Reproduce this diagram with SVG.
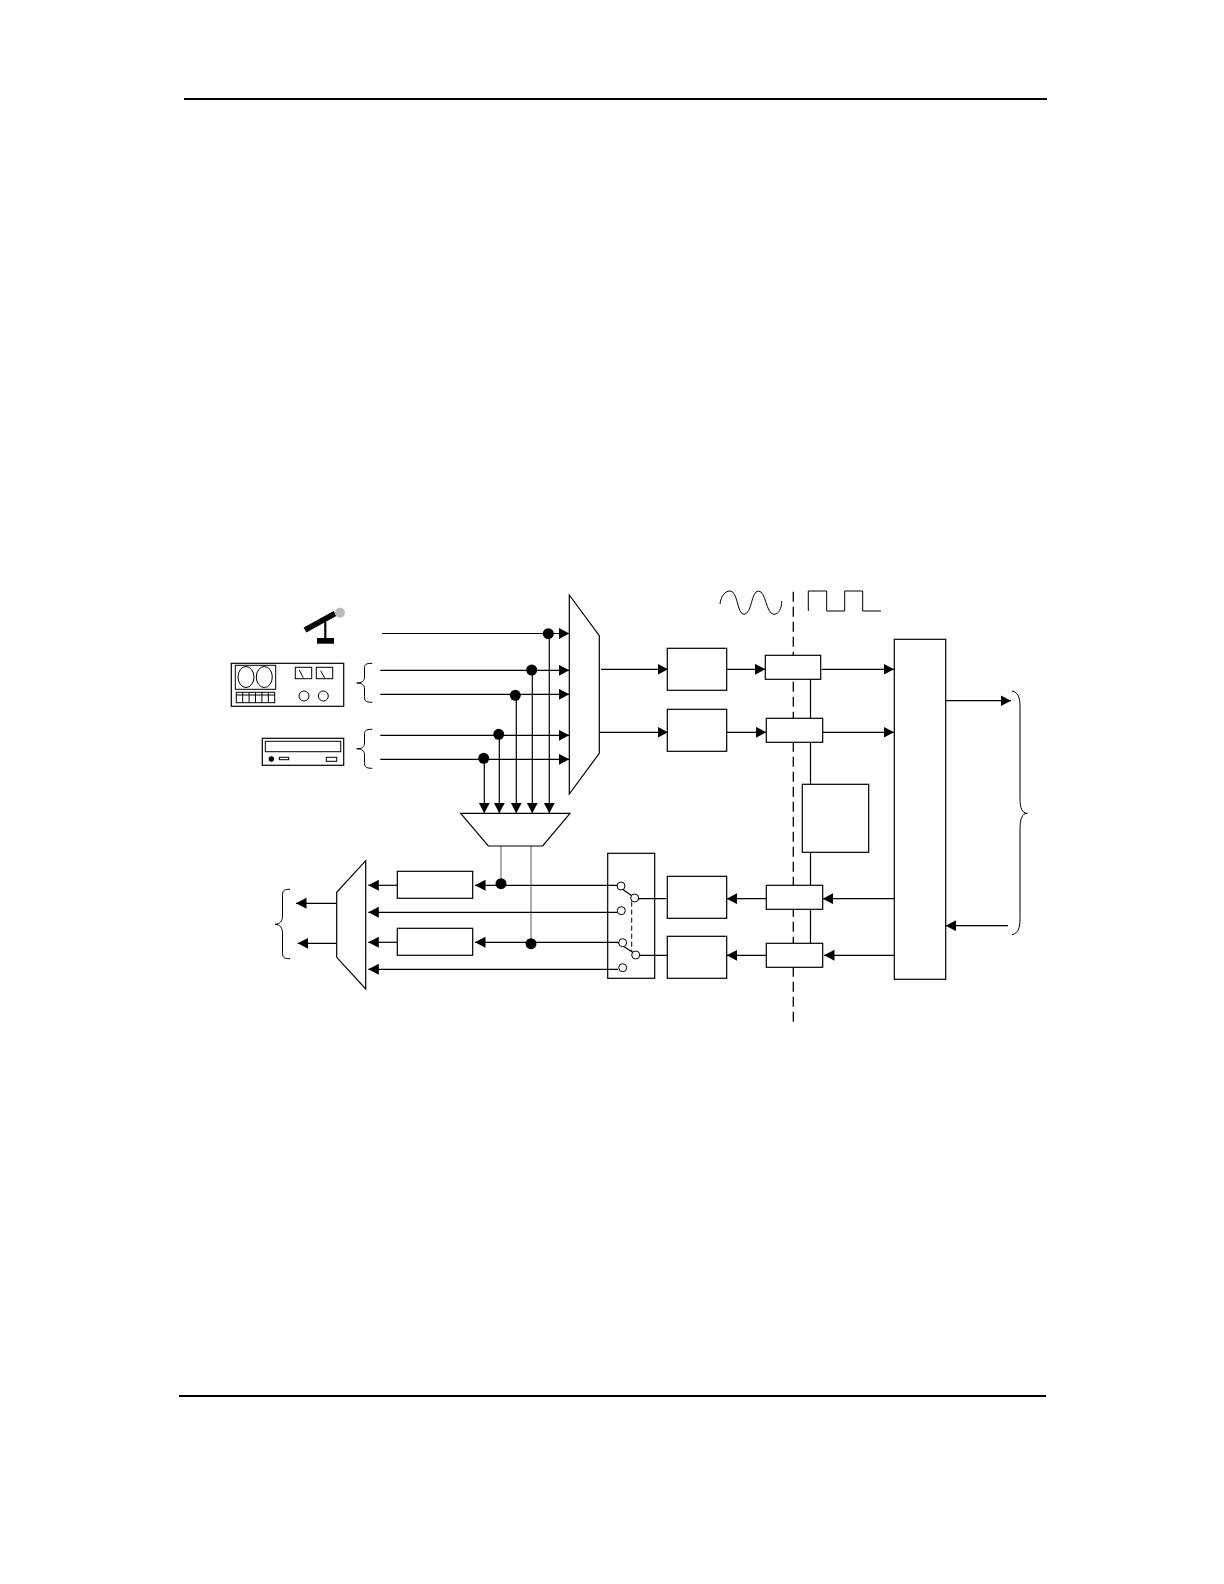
<svg xmlns="http://www.w3.org/2000/svg" width="1224" height="1584" viewBox="0 0 1224 1584">
<style>
.b{fill:#fff;stroke:#000;stroke-width:1.2}
.n{fill:none;stroke:#000;stroke-width:1}
.c{fill:none;stroke:#000;stroke-width:1.2}
.a{marker-end:url(#arrow)}
.g{fill:none;stroke:#999;stroke-width:1.6}
.d{fill:#000;stroke:none}
.o{fill:#fff;stroke:#000;stroke-width:1}
.dash{fill:none;stroke:#000;stroke-width:1.3;stroke-dasharray:10 5}
</style>
<defs>
<marker id="arrow" markerUnits="userSpaceOnUse" markerWidth="12" markerHeight="12" refX="10.5" refY="5.5" orient="auto"><path d="M0,0 L10.5,5.5 L0,11 Z" fill="#000"/></marker>
</defs>
<rect width="1224" height="1584" fill="#fff"/>
<g id="page-rules">
<line x1="184" y1="99" x2="1047" y2="99" stroke="#000" stroke-width="2"/>
<line x1="179" y1="1396" x2="1046" y2="1396" stroke="#000" stroke-width="2"/>
</g>
<g id="divider">
<path class="dash" d="M793.3,591.7V1021.7"/>
</g>
<g id="connectors">
<path class="c a" d="M382,633.5H569.3"/>
<path class="c a" d="M380.3,670.3H569.3"/>
<path class="c a" d="M380.3,694.3H569.3"/>
<path class="c a" d="M380.3,735.3H569.3"/>
<path class="c a" d="M380.3,759.3H569.3"/>
<path class="c a" d="M549.3,633.5V813.3"/>
<path class="c a" d="M532.3,670.3V813.3"/>
<path class="c a" d="M516.3,695V813.3"/>
<path class="c a" d="M499.3,735V813.3"/>
<path class="c a" d="M484.3,759V813.3"/>
<path class="g" d="M501,846V884"/>
<path class="g" d="M531,846V943"/>
<path class="c a" d="M601,669.3H668"/>
<path class="c a" d="M599.3,732.3H668"/>
<path class="c a" d="M726.7,669.3H765.3"/>
<path class="c a" d="M726.7,732.3H766.3"/>
<path class="c a" d="M821.7,669.3H894"/>
<path class="c a" d="M822.7,732.3H894"/>
<path class="c" d="M810.5,679.3V718.3M810.5,742.3V784.3M810.5,852.3V885.3M810.5,909.3V943.3"/>
<path class="c a" d="M945.7,700.7H1011"/>
<path class="c a" d="M1008,925.7H945.7"/>
<path class="c a" d="M894.3,898.7H822.7"/>
<path class="c a" d="M894.3,955.3H824"/>
<path class="c a" d="M766.3,898.7H726.7"/>
<path class="c a" d="M766.3,955.3H726.7"/>
<path class="c" d="M638,898.7H666.5M639,955.3H667.3"/>
<path class="c a" d="M618,885.3H475"/>
<path class="c a" d="M397.3,885.3H368.3"/>
<path class="c a" d="M618,912.3H368.3"/>
<path class="c a" d="M618,942.3H475"/>
<path class="c a" d="M397.3,942.3H368.3"/>
<path class="c a" d="M618,969.3H368.3"/>
<path class="c a" d="M336.7,903.3H296"/>
<path class="c a" d="M336.7,943.3H297.7"/>
</g>
<g id="microphone">
<line x1="305" y1="630" x2="335" y2="613.5" stroke="#000" stroke-width="5.5"/>
<circle cx="340" cy="612.7" r="5" fill="#bbb"/>
<line x1="325.3" y1="622" x2="325.3" y2="640" stroke="#000" stroke-width="2.2"/>
<rect class="d" x="317" y="638" width="17" height="5.7"/>
</g>
<g id="tape-deck">
<rect class="b" x="231.3" y="663.3" width="112.4" height="43"/>
<rect class="n" x="235.3" y="665.3" width="40.4" height="24"/>
<ellipse class="n" cx="246" cy="677" rx="8" ry="10.5"/>
<ellipse class="n" cx="264.3" cy="677" rx="8" ry="10.5"/>
<rect class="n" x="236.3" y="692.3" width="38.4" height="10.4"/>
<path class="n" d="M236.3,695H274.7M242.7,692.3V702.7M249.1,692.3V702.7M255.5,692.3V702.7M261.9,692.3V702.7M268.3,692.3V702.7"/>
<rect class="n" x="295.3" y="667.3" width="16.4" height="11.4"/>
<rect class="n" x="316.3" y="667.3" width="16.4" height="11.4"/>
<path class="n" d="M299.3,670L303.3,677.7M320.7,670.7L324.7,678"/>
<circle class="n" cx="304" cy="696" r="5"/>
<circle class="n" cx="323.3" cy="696" r="5"/>
</g>
<g id="cd-player">
<rect class="b" x="262.3" y="738.3" width="81.4" height="27"/>
<rect class="n" x="265.3" y="741.3" width="75.4" height="10.4"/>
<circle class="d" cx="271.3" cy="759" r="2.7"/>
<rect class="n" x="279.3" y="757.3" width="9.4" height="2.4"/>
<rect class="n" x="326.3" y="757.3" width="10.4" height="4"/>
</g>
<g id="brace-tape"><path class="n" d="M372.3,663.3C365,663.3 364.5,665 364.5,669V677C364.5,681 362,683 356.7,683C362,683 364.5,685 364.5,689V696.5C364.5,700.5 365,702.3 372.3,702.3"/></g>
<g id="brace-cd"><path class="n" d="M372.3,729.3C365,729.3 364.5,731 364.5,735V743C364.5,747 362,748.8 356.7,748.8C362,748.8 364.5,751 364.5,755V762.5C364.5,766.5 365,768.3 372.3,768.3"/></g>
<g id="brace-output"><path class="n" d="M290,889.3C283,889.3 282.5,891 282.5,896V916C282.5,921 280,924.3 275,924.3C280,924.3 282.5,928 282.5,933V952C282.5,957 283,958.7 290,958.7"/></g>
<g id="brace-bus"><path class="n" d="M1012,691C1018,692 1020,698 1020,706V798C1020,808 1022,813.3 1027.3,813.3C1022,813.3 1020,819 1020,829V919C1020,928 1018,933.5 1012,934.7"/></g>
<g id="input-mux"><path class="b" d="M569.3,595L599.3,635.7V753.3L569.3,794Z"/></g>
<g id="mixer"><path class="b" d="M460.7,813.3H570L542.7,846H488.3Z"/></g>
<g id="output-mux"><path class="b" d="M365.7,860.7V989L336.7,957.3V892.3Z"/></g>
<g id="adc-1"><rect class="b" x="667.3" y="648.3" width="59.4" height="42"/></g>
<g id="adc-2"><rect class="b" x="667.3" y="709.3" width="59.4" height="42"/></g>
<g id="iso-1"><rect class="b" x="765.3" y="655.3" width="55.4" height="24"/></g>
<g id="iso-2"><rect class="b" x="766.3" y="718.3" width="56.4" height="24"/></g>
<g id="isolated-power"><rect class="b" x="802.3" y="784.3" width="66.4" height="68"/></g>
<g id="iso-3"><rect class="b" x="766.3" y="885.3" width="56.4" height="24"/></g>
<g id="iso-4"><rect class="b" x="766.3" y="943.3" width="56.4" height="24"/></g>
<g id="dac-1"><rect class="b" x="667.3" y="876.3" width="59.4" height="42"/></g>
<g id="dac-2"><rect class="b" x="667.3" y="936.3" width="59.4" height="42"/></g>
<g id="digital-core"><rect class="b" x="894.3" y="639.3" width="51.4" height="340"/></g>
<g id="output-amp-1"><rect class="b" x="397.3" y="871.3" width="75.4" height="27"/></g>
<g id="output-amp-2"><rect class="b" x="397.3" y="928.3" width="75.4" height="27"/></g>
<g id="switch">
<rect class="b" x="607.7" y="853.3" width="47" height="125" style="fill:none"/>
<path class="c" d="M616.7,885L631.7,895.7M617.5,942.5L633,952.5"/>
<path class="n" stroke-dasharray="5 3" d="M631.7,901.7V951.7"/>
<path class="c" d="M638,898.7H640M639,955.3H641"/>
<circle class="o" cx="621" cy="886" r="4"/>
<circle class="o" cx="634.7" cy="898" r="4"/>
<circle class="o" cx="621.3" cy="910.7" r="4"/>
<circle class="o" cx="622.7" cy="942.7" r="4"/>
<circle class="o" cx="635.7" cy="955" r="4"/>
<circle class="o" cx="622.7" cy="967.7" r="4"/>
</g>
<g id="junctions">
<circle class="d" cx="548.3" cy="633.7" r="5.5"/>
<circle class="d" cx="531.7" cy="670" r="5.5"/>
<circle class="d" cx="515.3" cy="695.3" r="5.5"/>
<circle class="d" cx="498.7" cy="734.3" r="5.5"/>
<circle class="d" cx="483.7" cy="758.3" r="5.5"/>
<circle class="d" cx="501" cy="883.7" r="5.5"/>
<circle class="d" cx="531" cy="943.7" r="5.5"/>
</g>
<g id="waveforms">
<path class="n" d="M720,604C721,596 725,591 730,591C738,591 737,614.3 744,614.3C752,614.3 751,591 758.5,591C766,591 766,614.3 774,614.3C779,614.3 781.7,608 781.7,601"/>
<path class="n" d="M808.3,611V591H826.7V611H844.7V591H862.7V611H881"/>
</g>
</svg>
